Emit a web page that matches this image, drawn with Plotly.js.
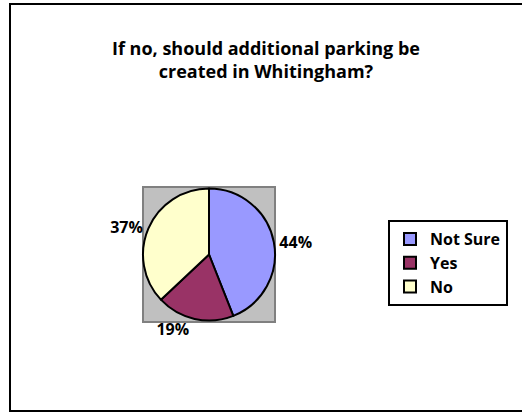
<!DOCTYPE html>
<html>
<head>
<meta charset="utf-8">
<script src="https://cdn.plot.ly/plotly-3.0.1.min.js"></script>
<style>html,body{margin:0;padding:0;background:#fff;}#chart{width:522px;height:414px;}</style>
</head>
<body>
<div id="chart"></div>
<script>
const categories = ["Not Sure", "Yes", "No"];
const values = [44, 19, 37];
const colors = ["#9999FF", "#993366", "#FFFFCC"];
const chartTitle = "If no, should additional parking be<br>created in Whitingham?";

const W = 522, H = 414;
const px = v => v / W;
const py = v => 1 - v / H;
const FONT = "'Open Sans', sans-serif";

const trace = {
  type: "pie",
  labels: categories,
  values: values,
  sort: false,
  direction: "clockwise",
  rotation: 0,
  marker: { colors: colors, line: { color: "#000000", width: 2 } },
  textinfo: "percent",
  textposition: "outside",
  outsidetextfont: { family: FONT, size: 16, color: "#000000", weight: "bold" },
  domain: { x: [px(143), px(275)], y: [py(321), py(188)] },
  hoverinfo: "label+percent"
};

const layout = {
  width: W, height: H,
  margin: { l: 0, r: 0, t: 0, b: 0 },
  paper_bgcolor: "#FFFFFF",
  title: {
    text: chartTitle,
    font: { family: FONT, size: 18, color: "#000000", weight: "bold" },
    x: 266 / W, xanchor: "center",
    y: py(55), yanchor: "middle", yref: "paper"
  },
  showlegend: true,
  legend: {
    x: px(388), xanchor: "left",
    y: py(263), yanchor: "middle",
    bordercolor: "#000000", borderwidth: 2,
    bgcolor: "#FFFFFF",
    font: { family: FONT, size: 16, color: "#000000", weight: "bold" }
  },
  shapes: [
    { type: "rect", xref: "paper", yref: "paper", x0: px(10), x1: 1.02, y0: py(411), y1: py(4),
      line: { color: "#000000", width: 2 }, fillcolor: "rgba(0,0,0,0)", layer: "below" },
    { type: "rect", xref: "paper", yref: "paper", x0: px(143), x1: px(275), y0: py(322), y1: py(187),
      line: { color: "#808080", width: 2 }, fillcolor: "#C0C0C0", layer: "below" }
  ]
};

Plotly.newPlot("chart", [trace], layout, { displayModeBar: false, staticPlot: true });
</script>
</body>
</html>
